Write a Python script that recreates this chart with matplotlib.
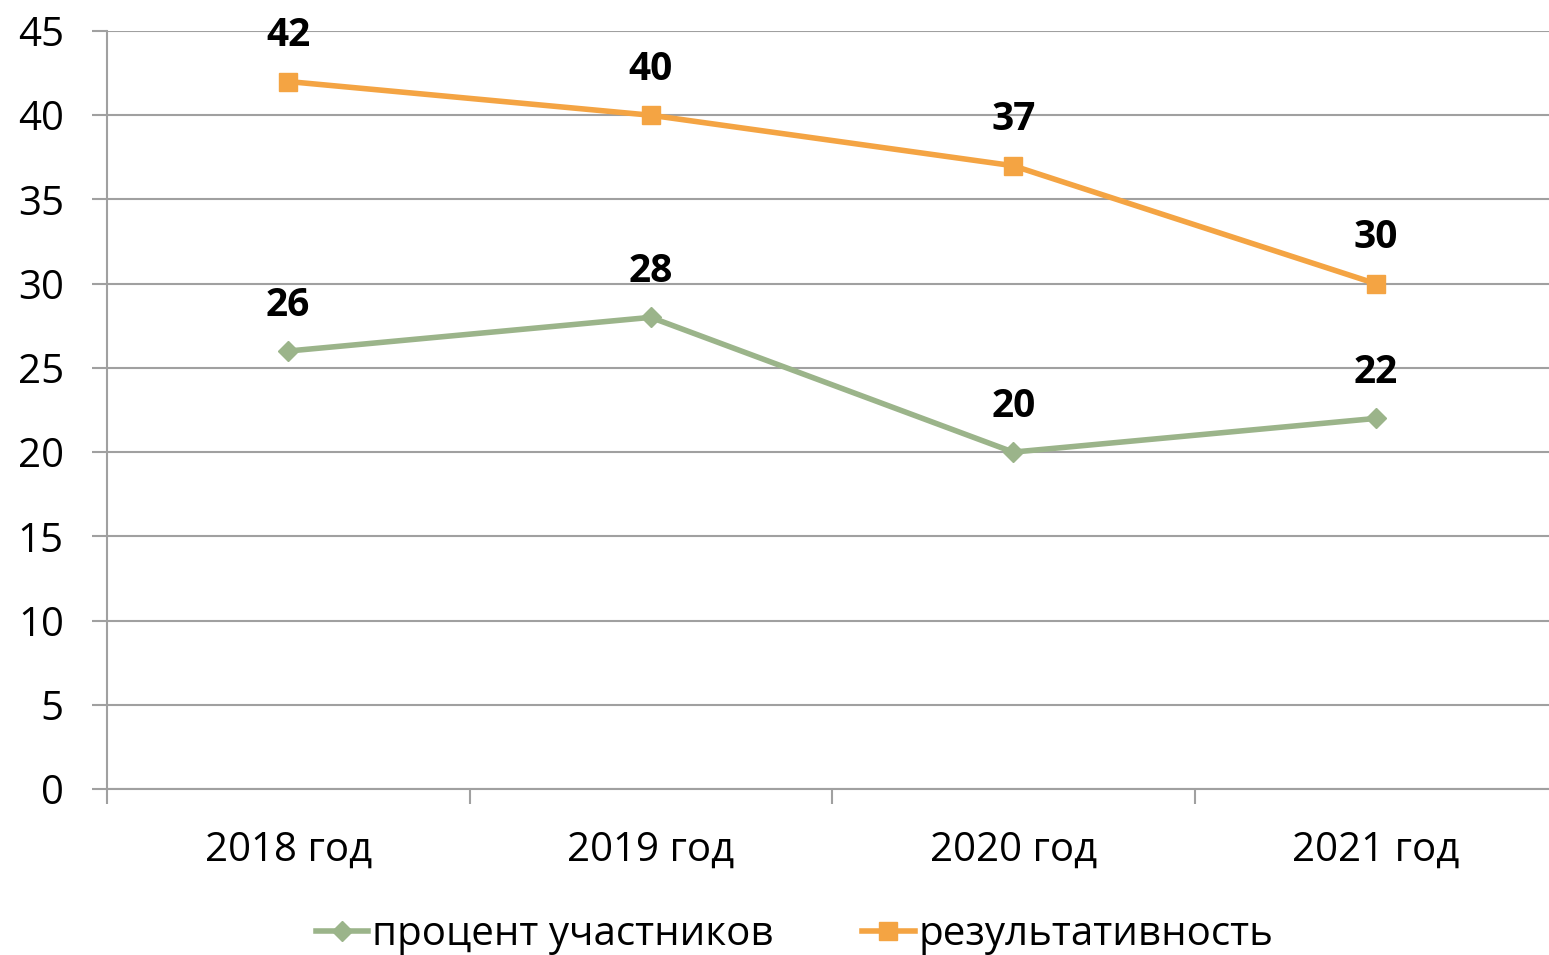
import matplotlib
matplotlib.use('Agg')
from matplotlib import pyplot as plt
from matplotlib.ticker import FixedLocator

plt.rcParams['font.family'] = ['Open Sans', 'DejaVu Sans']

categories = ['2018 год', '2019 год', '2020 год', '2021 год']
participants = [26, 28, 20, 22]
performance = [42, 40, 37, 30]
yticks = [0, 5, 10, 15, 20, 25, 30, 35, 40, 45]

green = '#9BB48A'
orange = '#F4A443'
grid = '#A0A0A0'

fig = plt.figure(figsize=(15.49, 9.55), dpi=100)
ax = fig.add_axes([107 / 1549, 166 / 955, 1450 / 1549, 758 / 955])

x = list(range(len(categories)))
ax.plot(x, participants, color=green, lw=4, marker='D', ms=10,
        label='процент участников', zorder=3)
ax.plot(x, performance, color=orange, lw=4, marker='s', ms=13,
        label='результативность', zorder=3)

# data labels above each point
for series in (participants, performance):
    for xi, v in zip(x, series):
        ax.annotate(str(v), (xi, v), xytext=(0, 33), textcoords='offset points',
                    ha='center', va='center', fontsize=28, fontweight='bold')

ax.set_xlim(-0.5, 3.5)
ax.set_ylim(0, 45)
ax.set_yticks(yticks)
ax.yaxis.grid(True, color=grid, lw=1.5)
ax.set_axisbelow(True)

ax.set_xticks(x)
ax.set_xticklabels(categories, fontsize=29)
ax.xaxis.set_minor_locator(FixedLocator([-0.5, 0.5, 1.5, 2.5, 3.5]))
ax.tick_params(axis='x', which='major', length=0, pad=30)
ax.tick_params(axis='x', which='minor', length=11, width=1.5, color=grid)
ax.tick_params(axis='y', length=11, width=1.5, color=grid, labelsize=29, pad=20)

for s in ['top', 'right']:
    ax.spines[s].set_visible(False)
for s in ['left', 'bottom']:
    ax.spines[s].set_color(grid)
    ax.spines[s].set_linewidth(1.5)

fig.legend(loc='lower center', bbox_to_anchor=(0.513, -0.038), ncol=2,
           frameon=False, fontsize=29, handlelength=1.3, handletextpad=0.1,
           columnspacing=2.2)

fig.savefig('out.png', dpi=100)
